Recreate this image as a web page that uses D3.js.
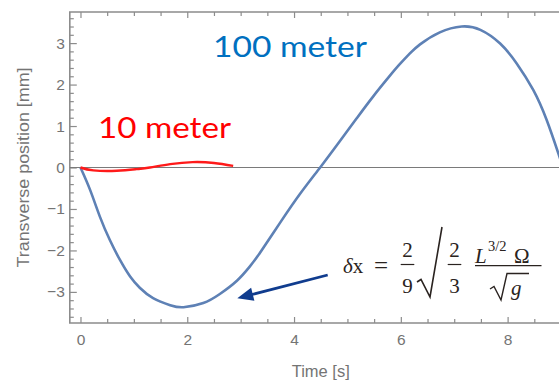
<!DOCTYPE html>
<meta charset="utf-8">
<script src="https://d3js.org/d3.v7.min.js"></script>
<style>body{margin:0;background:#fff}</style>
<div id="my_dataviz"></div>
<script>
// values
var timeBlue = [0, 0.18, 0.365, 0.55, 0.74, 0.93, 1.11, 1.36, 1.68, 1.93, 2.30, 2.61, 2.93, 3.17, 3.36, 3.74, 4.11, 4.50, 4.86, 5.17, 5.48, 5.80, 5.98, 6.17, 6.36, 6.73, 7.14, 7.49, 7.86, 8.17, 8.48, 8.73, 8.95, 9.05];
var posBlue  = [0, -0.54, -1.19, -1.75, -2.23, -2.63, -2.90, -3.15, -3.32, -3.37, -3.27, -3.05, -2.73, -2.39, -2.06, -1.33, -0.64, 0.02, 0.64, 1.18, 1.71, 2.22, 2.49, 2.75, 2.97, 3.26, 3.40, 3.32, 2.99, 2.51, 1.87, 1.15, 0.34, -0.05];
var timeRed = [0, 0.24, 0.68, 1.05, 1.30, 1.68, 2.10, 2.50, 2.86];
var posRed  = [0, -0.07, -0.08, -0.04, 0.0, 0.08, 0.13, 0.11, 0.04];
var xTicks = [0, 2, 4, 6, 8];
var xTickLabels = ["0", "2", "4", "6", "8"];
var yTicks = [-3, -2, -1, 0, 1, 2, 3];
var yTickLabels = ["\u22123", "\u22122", "\u22121", "0", "1", "2", "3"];
var seriesNames = ["100 meter", "10 meter"];

var width = 559, height = 381;
var svg = d3.select("#my_dataviz")
  .append("svg")
    .attr("width", width)
    .attr("height", height);

var x = d3.scaleLinear().domain([-0.2, 9]).range([69.8, 561]);
var y = d3.scaleLinear().domain([-3.75, 3.75]).range([323, 12]);

var frameCol = "#8c8c8c", labelCol = "#747474";

// minor tick values
var xMinor = d3.range(1, 18).map(function(k) { return k / 2 }).filter(function(v) { return v % 2 !== 0 });
var yMinor = d3.range(-18, 19).filter(function(k) { return k % 5 !== 0 }).map(function(k) { return k / 5 });

function styleAxis(g) {
  g.select(".domain").remove();
  g.selectAll("line").attr("stroke", frameCol).attr("stroke-width", 1.2);
  g.selectAll("text").attr("fill", labelCol)
    .style("font-family", "'Liberation Sans', Arial, sans-serif").style("font-size", "15.5px");
}

// bottom
svg.append("g").attr("transform", "translate(0,323)")
  .call(d3.axisBottom(x).tickValues(xTicks).tickSize(-6).tickPadding(11)
    .tickFormat(function(d, i) { return xTickLabels[i] }))
  .call(styleAxis);
svg.append("g").attr("transform", "translate(0,323)")
  .call(d3.axisBottom(x).tickValues(xMinor).tickSize(-4).tickFormat(""))
  .call(styleAxis);
// top
svg.append("g").attr("transform", "translate(0,12)")
  .call(d3.axisTop(x).tickValues(xTicks).tickSize(-6).tickFormat(""))
  .call(styleAxis);
svg.append("g").attr("transform", "translate(0,12)")
  .call(d3.axisTop(x).tickValues(xMinor).tickSize(-4).tickFormat(""))
  .call(styleAxis);
// left
svg.append("g").attr("transform", "translate(69.8,0)")
  .call(d3.axisLeft(y).tickValues(yTicks).tickSize(-7).tickPadding(5)
    .tickFormat(function(d, i) { return yTickLabels[i] }))
  .call(styleAxis);
svg.append("g").attr("transform", "translate(69.8,0)")
  .call(d3.axisLeft(y).tickValues(yMinor).tickSize(-4).tickFormat(""))
  .call(styleAxis);

// frame
svg.append("path")
  .attr("d", "M" + width + "," + y(3.75) + "H" + x(-0.2) + "V" + y(-3.75) + "H" + width)
  .attr("fill", "none").attr("stroke", frameCol).attr("stroke-width", 1.6);

// zero line
svg.append("line")
  .attr("x1", x(-0.2)).attr("x2", width)
  .attr("y1", y(0)).attr("y2", y(0))
  .attr("stroke", "#7a7a7a").attr("stroke-width", 1.2);

// axis titles
svg.append("text")
  .attr("transform", "translate(23," + y(0) + ") rotate(-90)")
  .attr("text-anchor", "middle").attr("dy", "0.35em")
  .attr("fill", labelCol)
  .style("font-family", "'Liberation Sans', Arial, sans-serif").style("font-size", "16px")
  .attr("textLength", 200).attr("lengthAdjust", "spacingAndGlyphs")
  .text("Transverse position  [mm]");
svg.append("text")
  .attr("x", x(4.5)).attr("y", 377)
  .attr("text-anchor", "middle")
  .attr("fill", labelCol)
  .style("font-family", "'Liberation Sans', Arial, sans-serif").style("font-size", "16.5px")
  .text("Time [s]");

// curves
svg.append("clipPath").attr("id", "plotclip")
  .append("rect").attr("x", x(-0.2)).attr("y", y(3.75))
  .attr("width", width - x(-0.2)).attr("height", y(-3.75) - y(3.75));

var blueData = timeBlue.map(function(t, i) { return { t: t, v: posBlue[i] } });
var redData = timeRed.map(function(t, i) { return { t: t, v: posRed[i] } });
var line = d3.line()
  .x(function(d) { return x(d.t) })
  .y(function(d) { return y(d.v) })
  .curve(d3.curveNatural);

svg.append("path").datum(blueData)
  .attr("clip-path", "url(#plotclip)")
  .attr("fill", "none").attr("stroke", "#5e81b5").attr("stroke-width", 2.6)
  .attr("d", line);
svg.append("path").datum(redData)
  .attr("clip-path", "url(#plotclip)")
  .attr("fill", "none").attr("stroke", "#ff1a1a").attr("stroke-width", 2.4)
  .attr("d", line);

// series labels
svg.append("text")
  .attr("x", 213).attr("y", 57)
  .attr("fill", "#0070c0")
  .style("font-family", "Lato, 'Open Sans', sans-serif").style("font-size", "28px")
  .attr("textLength", 154).attr("lengthAdjust", "spacingAndGlyphs")
  .text(seriesNames[0]);
svg.append("text")
  .attr("x", 98).attr("y", 137.5)
  .attr("fill", "#ff0000")
  .style("font-family", "Lato, 'Open Sans', sans-serif").style("font-size", "28px")
  .attr("textLength", 133).attr("lengthAdjust", "spacingAndGlyphs")
  .text(seriesNames[1]);

// arrow
var arrowCol = "#103c8e";
svg.append("line")
  .attr("x1", 327.7).attr("y1", 275).attr("x2", 252).attr("y2", 294.5)
  .attr("stroke", arrowCol).attr("stroke-width", 2.8);
svg.append("path")
  .attr("d", "M237.3,298.3L254.4,300.8L251.1,287.8Z")
  .attr("fill", arrowCol);

// formula
var f = svg.append("g")
  .attr("fill", "#2a2320")
  .style("font-family", "'Liberation Serif', 'Times New Roman', serif")
  .style("font-size", "21px");
var t1 = f.append("text").attr("x", 343).attr("y", 273);
t1.append("tspan").style("font-style", "italic").text("\u03b4");
t1.append("tspan").text("x");
f.append("text").attr("x", 374).attr("y", 274).style("font-size", "25px").text("=");
function frac(cx, num, den) {
  f.append("text").attr("x", cx).attr("y", 256.5).attr("text-anchor", "middle").text(num);
  f.append("text").attr("x", cx).attr("y", 293).attr("text-anchor", "middle").text(den);
  f.append("line").attr("x1", cx - 6.8).attr("x2", cx + 6.8).attr("y1", 264.5).attr("y2", 264.5)
    .attr("stroke", "#2a2320").attr("stroke-width", 1.2);
}
frac(407.5, "2", "9");
f.append("path")
  .attr("d", "M417,282L421,279.5L430,297L442,227")
  .attr("fill", "none").attr("stroke", "#2a2320").attr("stroke-width", 1.6).attr("stroke-linejoin", "miter");
frac(454.5, "2", "3");
f.append("line").attr("x1", 475).attr("x2", 541.5).attr("y1", 265.7).attr("y2", 265.7)
  .attr("stroke", "#2a2320").attr("stroke-width", 1.2);
var num = f.append("text").attr("x", 475).attr("y", 262.5);
num.append("tspan").style("font-style", "italic").text("L");
f.append("text").attr("x", 488).attr("y", 251).style("font-size", "14.5px").text("3/2");
f.append("text").attr("x", 514).attr("y", 262.5).text("\u03a9");
f.append("path")
  .attr("d", "M490,289L494,286.5L501,300L507,273.5H529")
  .attr("fill", "none").attr("stroke", "#2a2320").attr("stroke-width", 1.4);
f.append("text").attr("x", 511).attr("y", 295).style("font-style", "italic").text("g");
</script>
